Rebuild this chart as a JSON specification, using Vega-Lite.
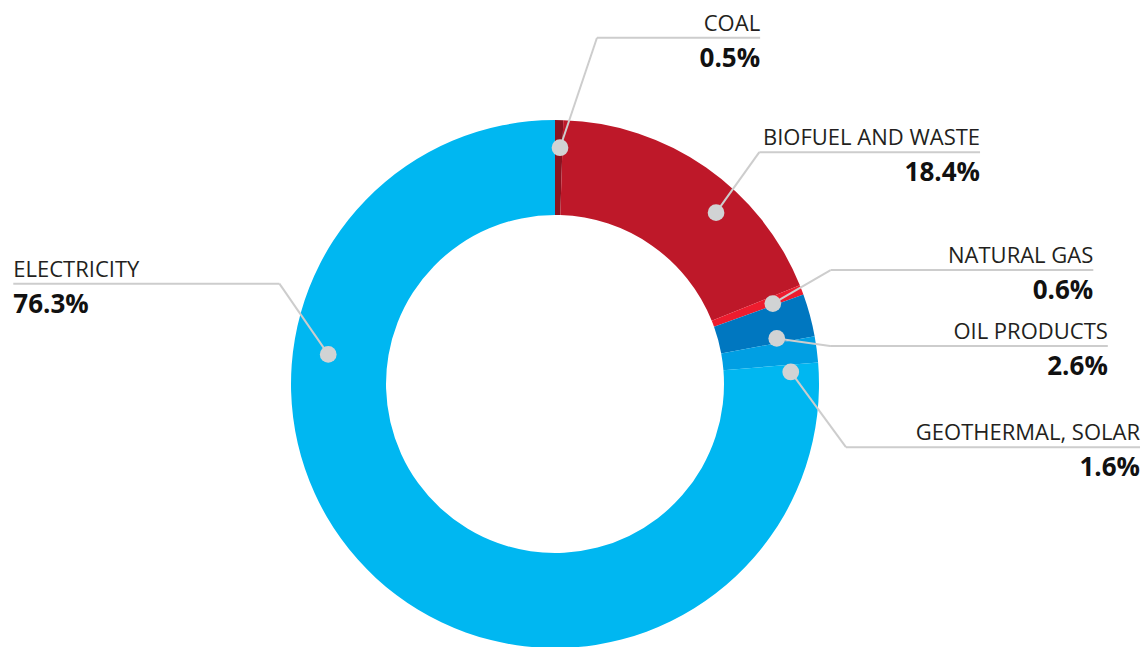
{
  "$schema": "https://vega.github.io/schema/vega-lite/v6.json",
  "width": 1148,
  "height": 647,
  "autosize": {"type": "fit", "contains": "padding"},
  "padding": 0,
  "background": "white",
  "config": {"view": {"stroke": null}},
  "datasets": {
    "shares": [
      {"source": "COAL", "share": 0.5, "rank": 1},
      {"source": "BIOFUEL AND WASTE", "share": 18.4, "rank": 2},
      {"source": "NATURAL GAS", "share": 0.6, "rank": 3},
      {"source": "OIL PRODUCTS", "share": 2.6, "rank": 4},
      {"source": "GEOTHERMAL, SOLAR", "share": 1.6, "rank": 5},
      {"source": "ELECTRICITY", "share": 76.3, "rank": 6}
    ],
    "callouts": [
      {"source": "COAL", "dotx": 1.9, "doty": 90.2, "elbowx": 15.9, "elbowy": 132.2, "endx": 77.7},
      {"source": "BIOFUEL AND WASTE", "dotx": 61.0, "doty": 65.4, "elbowx": 77.4, "elbowy": 88.5, "endx": 161.0},
      {"source": "NATURAL GAS", "dotx": 82.5, "doty": 30.7, "elbowx": 104.4, "elbowy": 43.5, "endx": 203.9},
      {"source": "OIL PRODUCTS", "dotx": 84.0, "doty": 17.4, "elbowx": 104.2, "elbowy": 14.5, "endx": 209.4},
      {"source": "GEOTHERMAL, SOLAR", "dotx": 89.3, "doty": 4.6, "elbowx": 110.2, "elbowy": -24.1, "endx": 221.6},
      {"source": "ELECTRICITY", "dotx": -85.9, "doty": 11.3, "elbowx": -104.4, "elbowy": 38.3, "endx": -205.2}
    ]
  },
  "layer": [
    {
      "data": {"name": "shares"},
      "mark": {"type": "arc", "outerRadius": 264, "innerRadius": 169},
      "encoding": {
        "theta": {"field": "share", "type": "quantitative", "stack": true},
        "order": {"field": "rank", "type": "quantitative"},
        "color": {
          "field": "source",
          "type": "nominal",
          "scale": {
            "domain": ["COAL", "BIOFUEL AND WASTE", "NATURAL GAS", "OIL PRODUCTS", "GEOTHERMAL, SOLAR", "ELECTRICITY"],
            "range": ["#8A1320", "#BE1829", "#ED1C2E", "#0077C0", "#009FE3", "#00B7F1"]
          },
          "legend": null
        },
        "x": {"datum": 0, "type": "quantitative", "scale": {"domain": [-210.23, 224.62], "nice": false, "zero": false}, "axis": null},
        "y": {"datum": 0, "type": "quantitative", "scale": {"domain": [-98.48, 146.59], "nice": false, "zero": false}, "axis": null}
      }
    },
    {
      "data": {"name": "callouts"},
      "transform": [
        {"lookup": "source", "from": {"data": {"name": "shares"}, "key": "source", "fields": ["share"]}},
        {"calculate": "format(datum.share, '.1f') + '%'", "as": "label"}
      ],
      "layer": [
        {
          "mark": {"type": "rule", "color": "#CDCDCD", "strokeWidth": 2},
          "encoding": {
            "x": {"field": "dotx", "type": "quantitative", "scale": {"domain": [-210.23, 224.62], "nice": false, "zero": false}, "axis": null},
            "y": {"field": "doty", "type": "quantitative", "scale": {"domain": [-98.48, 146.59], "nice": false, "zero": false}, "axis": null},
            "x2": {"field": "elbowx"},
            "y2": {"field": "elbowy"}
          }
        },
        {
          "mark": {"type": "rule", "color": "#CDCDCD", "strokeWidth": 2},
          "encoding": {
            "x": {"field": "elbowx", "type": "quantitative"},
            "y": {"field": "elbowy", "type": "quantitative"},
            "x2": {"field": "endx"}
          }
        },
        {
          "mark": {"type": "point", "filled": true, "size": 280, "color": "#D1D3D4", "opacity": 1},
          "encoding": {
            "x": {"field": "dotx", "type": "quantitative"},
            "y": {"field": "doty", "type": "quantitative"}
          }
        },
        {
          "transform": [{"filter": "datum.endx > 0"}],
          "mark": {"type": "text", "align": "right", "baseline": "alphabetic", "dy": -7, "font": "Open Sans", "fontSize": 22, "color": "#231F20"},
          "encoding": {
            "x": {"field": "endx", "type": "quantitative"},
            "y": {"field": "elbowy", "type": "quantitative"},
            "text": {"field": "source"}
          }
        },
        {
          "transform": [{"filter": "datum.endx < 0"}],
          "mark": {"type": "text", "align": "left", "baseline": "alphabetic", "dy": -7, "font": "Open Sans", "fontSize": 22, "color": "#231F20"},
          "encoding": {
            "x": {"field": "endx", "type": "quantitative"},
            "y": {"field": "elbowy", "type": "quantitative"},
            "text": {"field": "source"}
          }
        },
        {
          "transform": [{"filter": "datum.endx > 0"}],
          "mark": {"type": "text", "align": "right", "baseline": "alphabetic", "dy": 29, "font": "Open Sans", "fontSize": 26, "fontWeight": "bold", "color": "#111111"},
          "encoding": {
            "x": {"field": "endx", "type": "quantitative"},
            "y": {"field": "elbowy", "type": "quantitative"},
            "text": {"field": "label"}
          }
        },
        {
          "transform": [{"filter": "datum.endx < 0"}],
          "mark": {"type": "text", "align": "left", "baseline": "alphabetic", "dy": 29, "font": "Open Sans", "fontSize": 26, "fontWeight": "bold", "color": "#111111"},
          "encoding": {
            "x": {"field": "endx", "type": "quantitative"},
            "y": {"field": "elbowy", "type": "quantitative"},
            "text": {"field": "label"}
          }
        }
      ]
    }
  ]
}
